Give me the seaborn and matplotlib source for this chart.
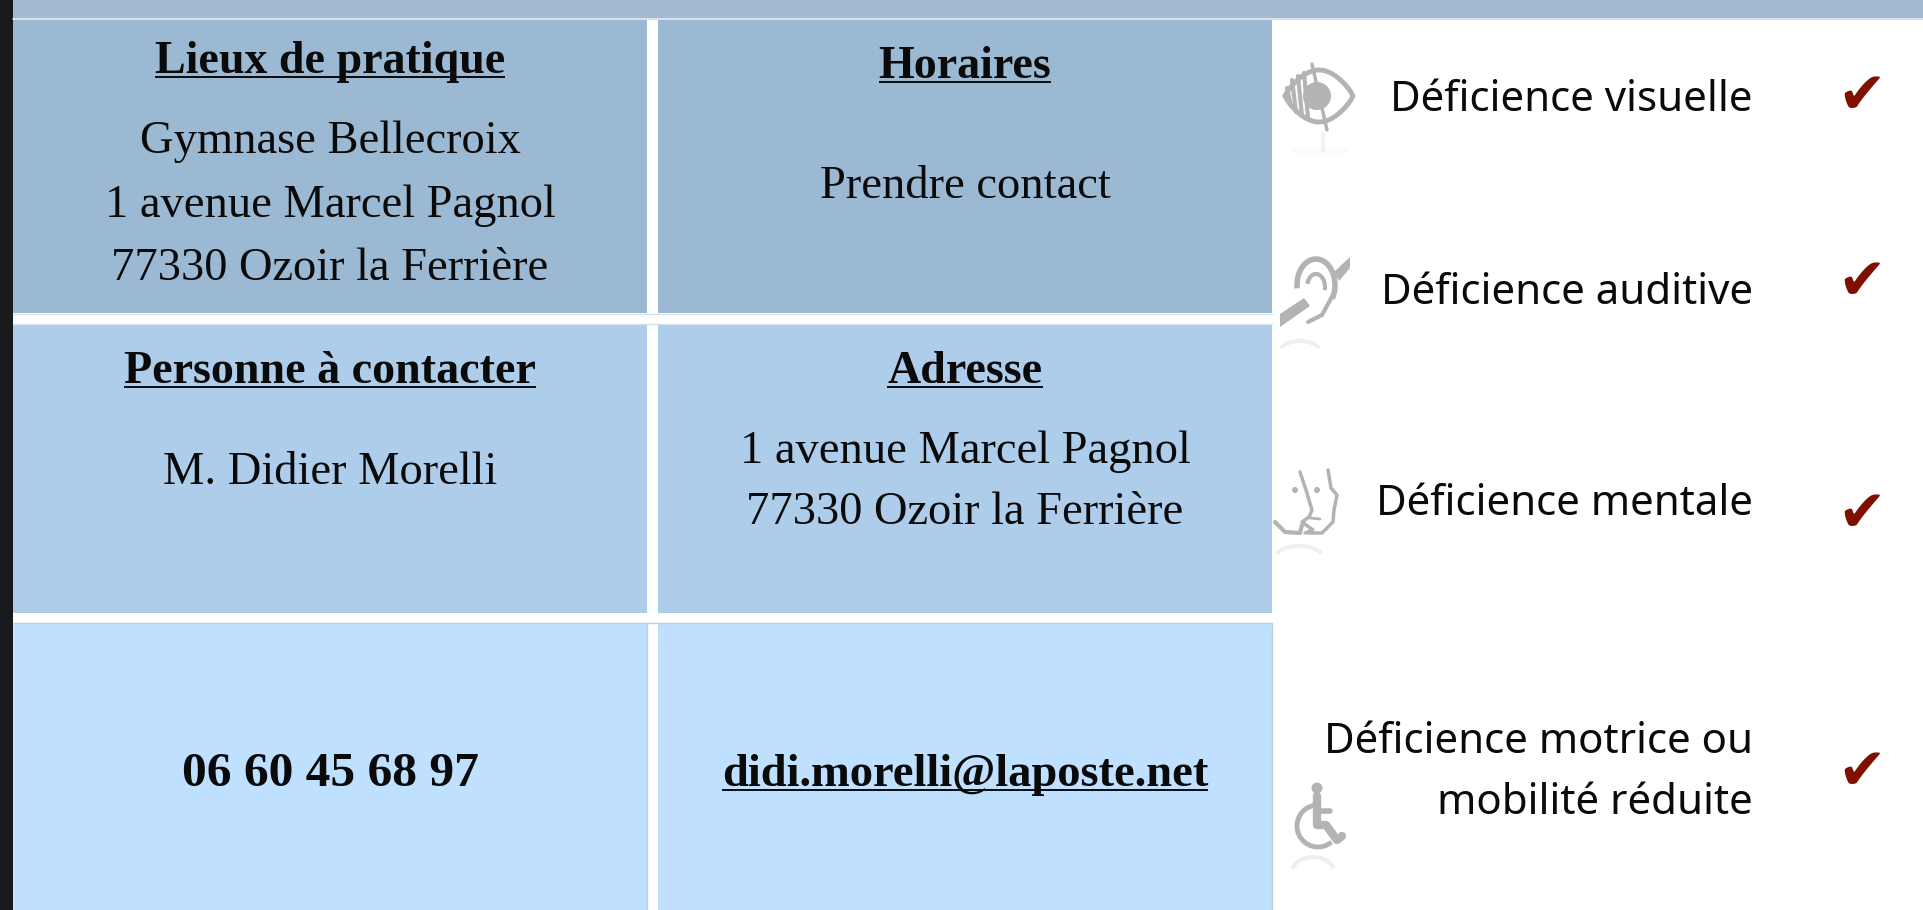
import numpy as np
import matplotlib
matplotlib.use('Agg')
import matplotlib.pyplot as plt
from matplotlib.colors import ListedColormap
from matplotlib.patches import Circle, Polygon, Rectangle, Arc
import seaborn as sns

# Cell colours and contents, row by row
cell_colors = [['#9cb9d3', '#9cb9d3'],
               ['#aecdeb', '#aecdeb'],
               ['#bfe0fe', '#bfe0fe']]
headers = [['Lieux de pratique', 'Horaires'],
           ['Personne à contacter', 'Adresse'],
           [None, None]]
bodies = [[['Gymnase Bellecroix', '1 avenue Marcel Pagnol', '77330 Ozoir la Ferrière'], ['Prendre contact']],
          [['M. Didier Morelli'], ['1 avenue Marcel Pagnol', '77330 Ozoir la Ferrière']],
          [['06 60 45 68 97'], ['didi.morelli@laposte.net']]]
handicaps = [['Déficience visuelle'], ['Déficience auditive'], ['Déficience mentale'],
             ['Déficience motrice ou', 'mobilité réduite']]

W, H = 1923, 910
col_edges = [(13, 647), (658, 1272)]
row_edges = [(20, 313), (324, 613), (623, 930)]
col_centers = [330, 965]
header_base = [[73, 78], [383, 383], [None, None]]
body_base = [[[153, 217, 280], [198]], [[484], [463, 524]], [[786], [786]]]
handicap_base = [[111], [304], [515], [753, 814]]
check_y = [97, 282, 514, 773]

sns.set_theme(style='white')
plt.rcParams['font.family'] = ['Liberation Serif', 'DejaVu Sans']
fig = plt.figure(figsize=(W / 100, H / 100), dpi=100, facecolor='white')


def add_px_axes(x0, y0, x1, y1):
    return fig.add_axes([x0 / W, 1 - y1 / H, (x1 - x0) / W, (y1 - y0) / H])


# one flat heatmap per cell since the rows and columns are not quite equal
for r, (y0, y1) in enumerate(row_edges):
    for c, (x0, x1) in enumerate(col_edges):
        ax = add_px_axes(x0, y0, x1, y1)
        sns.heatmap(np.array([[1.0]]), ax=ax, cmap=ListedColormap([cell_colors[r][c]]),
                    cbar=False, xticklabels=False, yticklabels=False)

ov = fig.add_axes([0, 0, 1, 1])
ov.set_xlim(0, W)
ov.set_ylim(H, 0)
ov.axis('off')
ov.patch.set_alpha(0)

# page furniture: dark strip at the left, band on top, thin cell borders
ov.add_patch(Rectangle((0, 0), 13, H, color='#17191b', lw=0))
ov.add_patch(Rectangle((13, 0), W - 13, 18, color='#a2bbd2', lw=0))
ov.plot([13, W], [19, 19], color='#cfdcea', lw=1.2)
ov.plot([1272, 1272], [623, H], color='#c4ced8', lw=1)
ov.plot([647, 647], [623, H], color='#c4ced8', lw=1)
ov.plot([13, 1272], [623, 623], color='#c4ced8', lw=1)
ov.plot([13, 1272], [313.5, 313.5], color='#d8e0e8', lw=1)
ov.plot([13, 1272], [324, 324], color='#d8e0e8', lw=1)

body_px = 46.5
head_px = 46
phone_px = 49.5
underlined = []
for r in range(3):
    for c in range(2):
        cx = col_centers[c]
        if headers[r][c]:
            t = ov.text(cx, header_base[r][c], headers[r][c], ha='center', va='baseline',
                        fontsize=head_px * 0.72, fontweight='bold', color='#0a0a0a')
            underlined.append((t, header_base[r][c]))
        for line, yb in zip(bodies[r][c], body_base[r][c]):
            if r == 2:
                size = phone_px if c == 0 else head_px + 0.5
            else:
                size = body_px
            t = ov.text(cx, yb, line, ha='center', va='baseline', fontsize=size * 0.72,
                        fontweight='bold' if r == 2 else 'normal', color='#0a0a0a')
            if line.startswith('didi'):
                underlined.append((t, yb))

fig.canvas.draw()
rend = fig.canvas.get_renderer()
for t, yb in underlined:
    bb = t.get_window_extent(rend)
    ov.plot([bb.x0, bb.x1], [yb + 3.5, yb + 3.5], color='#0a0a0a', lw=1.4, solid_capstyle='butt')

# right hand list
for lines, bases in zip(handicaps, handicap_base):
    for line, yb in zip(lines, bases):
        ov.text(1753, yb, line, ha='right', va='baseline', fontsize=42 * 0.72, family='Noto Sans',
                color='#0a0a0a')
for y in check_y:
    ov.text(1862, y, '✔', ha='center', va='center', fontsize=58 * 0.72, family='DejaVu Sans',
            color='#7f1000')

GREY = '#b3b3b3'


def eye(ax):
    t = np.linspace(0, 1, 30)
    top = np.column_stack([1285 + 68 * t, 96 - 26 * np.sin(np.pi * t) ** 0.8])
    bot = np.column_stack([1353 - 68 * t, 96 + 26 * np.sin(np.pi * t) ** 0.8])
    ax.plot(*np.vstack([top, bot, top[:1]]).T, color=GREY, lw=3.5)
    ax.add_patch(Circle((1317, 96), 14, color=GREY, lw=0))
    for x, ytop, ybot in [(1287, 88, 106), (1292, 80, 112), (1298, 76, 116), (1304, 73, 118)]:
        ax.plot([x, x + 4], [ytop, ybot], color=GREY, lw=3)
    ax.plot([1312, 1327], [64, 130], color=GREY, lw=2.5)


def ear(ax):
    ax.add_patch(Arc((1316, 285), 38, 52, theta1=170, theta2=400, color=GREY, lw=4))
    ax.add_patch(Arc((1316, 287), 18, 26, theta1=200, theta2=380, color=GREY, lw=3))
    ax.plot([1334, 1322, 1308], [293, 315, 322], color=GREY, lw=3)
    ax.add_patch(Polygon([[1280, 314], [1304, 298], [1310, 306], [1280, 327]], color=GREY, lw=0))
    ax.add_patch(Polygon([[1334, 272], [1350, 257], [1350, 268], [1339, 281]], color=GREY, lw=0))


def face(ax):
    ax.plot([1300, 1306, 1312, 1309, 1302, 1313, 1305], [472, 490, 510, 517, 522, 530, 533], color=GREY, lw=2.5)
    ax.plot([1328, 1331, 1337, 1334, 1333, 1322, 1308], [470, 488, 495, 510, 522, 533, 533], color=GREY, lw=2.5)
    ax.plot([1275, 1285, 1300, 1302], [522, 532, 533, 525], color=GREY, lw=3)
    ax.add_patch(Circle((1295, 490), 3, color=GREY, lw=0))
    ax.add_patch(Circle((1317, 490), 3, color=GREY, lw=0))
    ax.plot([1310, 1320], [518, 519], color=GREY, lw=2)


def wheelchair(ax):
    ax.add_patch(Circle((1317, 788), 5.5, color=GREY, lw=0))
    ax.plot([1317, 1317, 1326, 1337, 1342], [796, 825, 825, 840, 836], color=GREY, lw=6, solid_joinstyle='round')
    ax.plot([1317, 1330], [811, 811], color=GREY, lw=4)
    ax.add_patch(Arc((1318, 826), 42, 42, theta1=50, theta2=265, color=GREY, lw=3.5))


for draw_icon in [eye, ear, face, wheelchair]:
    draw_icon(ov)

# faint reflections under the icons, curved and fading out
for cx, cy, w, h, a in [(1300, 352, 40, 22, 0.2), (1299, 558, 48, 24, 0.2), (1313, 872, 42, 30, 0.2)]:
    ov.add_patch(Arc((cx, cy), w, h, theta1=190, theta2=350, color=GREY, alpha=a, lw=3))
ov.plot([1323, 1323], [134, 150], color=GREY, alpha=0.15, lw=3)
ov.plot([1295, 1345], [151, 151], color=GREY, alpha=0.06, lw=3)

fig.savefig('out.png', dpi=100, facecolor='white')
plt.close()
